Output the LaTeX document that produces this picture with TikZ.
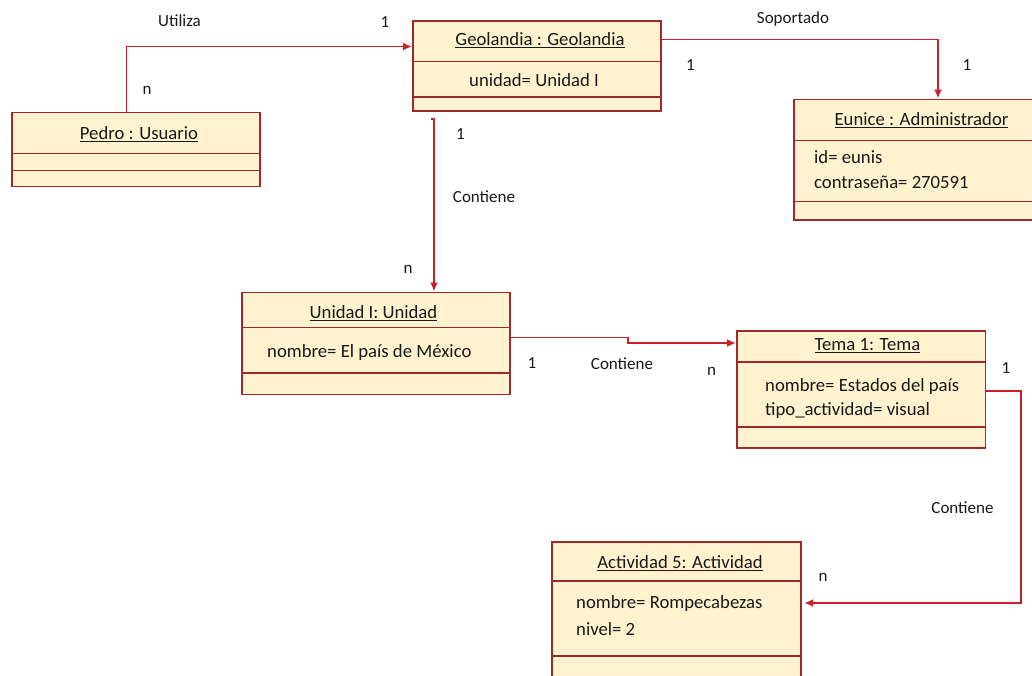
\documentclass[tikz,border=0pt]{standalone}
\usepackage{fontspec}
\setmainfont{Carlito}
\usetikzlibrary{arrows.meta,calc}
\definecolor{boxfill}{RGB}{255,242,206}
\definecolor{boxline}{RGB}{158,40,44}
\definecolor{connred}{RGB}{204,32,40}
\begin{document}
\begin{tikzpicture}[x=1pt,y=-1pt,
  umlbox/.style={draw=boxline, fill=boxfill, line width=1.7pt, rectangle, inner sep=0pt, anchor=north west},
  divider/.style={draw=boxline, line width=1.5pt},
  title/.style={font=\fontsize{18.7}{22}\selectfont, inner sep=0pt, text=black!90},
  attr/.style={font=\fontsize{18.7}{22}\selectfont, inner sep=0pt, anchor=west, text=black!90},
  lbl/.style={font=\fontsize{17}{20}\selectfont, inner sep=0pt, text=black!90},
  conn/.style={draw=connred, line width=1.8pt, -{Latex[length=9pt,width=8pt]}}]
\useasboundingbox (0,0) rectangle (1032,675);
\fill[white] (0,0) rectangle (1032,675);

% Pedro
\node[umlbox, minimum width=248pt, minimum height=74pt] (pedro) at (11,111.5) {};
\draw[divider] (pedro.west |- 0,153.5) -- (pedro.east |- 0,153.5);
\draw[divider] (pedro.west |- 0,170.5) -- (pedro.east |- 0,170.5);
\node[title] (pedroT) at (139,134) {\underline{Pedro : Usuario}};

% Geolandia
\node[umlbox, minimum width=248pt, minimum height=90pt] (geo) at (412,20) {};
\draw[divider] (geo.west |- 0,61.5) -- (geo.east |- 0,61.5);
\draw[divider] (geo.west |- 0,97) -- (geo.east |- 0,97);
\node[title] (geoT) at (540,40.5) {\underline{Geolandia : Geolandia}};
\node[attr] (geoA) at (469,80.5) {unidad= Unidad I};

% Eunice
\node[umlbox, minimum width=260pt, minimum height=120.5pt] (eunice) at (793,98.5) {};
\draw[divider] (eunice.west |- 0,140.5) -- (eunice.east |- 0,140.5);
\draw[divider] (eunice.west |- 0,201.5) -- (eunice.east |- 0,201.5);
\node[title] (euniceT) at (921.5,120.5) {\underline{Eunice : Administrador}};
\node[attr] (euniceA1) at (814,157.5) {id= eunis};
\node[attr] (euniceA2) at (814,182.5) {contraseña= 270591};

% Unidad
\node[umlbox, minimum width=268pt, minimum height=102pt] (unidad) at (241,291.5) {};
\draw[divider] (unidad.west |- 0,327.5) -- (unidad.east |- 0,327.5);
\draw[divider] (unidad.west |- 0,373) -- (unidad.east |- 0,373);
\node[title] (unidadT) at (373.5,313.3) {\underline{Unidad I: Unidad}};
\node[attr] (unidadA) at (267,353) {nombre= El país de México};

% Tema
\node[umlbox, minimum width=248.5pt, minimum height=117pt] (tema) at (736,330) {};
\draw[divider] (tema.west |- 0,362) -- (tema.east |- 0,362);
\draw[divider] (tema.west |- 0,427) -- (tema.east |- 0,427);
\node[title] (temaT) at (867.5,346) {\underline{Tema 1: Tema}};
\node[attr] (temaA1) at (765,386.5) {nombre= Estados del país};
\node[attr] (temaA2) at (765,410.5) {tipo\_actividad= visual};

% Actividad
\node[umlbox, minimum width=249pt, minimum height=140pt] (actividad) at (551,541) {};
\draw[divider] (actividad.west |- 0,581) -- (actividad.east |- 0,581);
\draw[divider] (actividad.west |- 0,656) -- (actividad.east |- 0,656);
\node[title] (actividadT) at (680,563) {\underline{Actividad 5: Actividad}};
\node[attr] (actividadA1) at (576,604) {nombre= Rompecabezas};
\node[attr] (actividadA2) at (576,629) {nivel= 2};

% Connectors
\draw[conn] (pedro.north -| 126.5,0) |- (geo.west |- 0,46.5);
\draw[conn] (geo.east |- 0,39.5) -| (eunice.north -| 938,0);
\coordinate (c1) at (431,119);
\draw[conn] (c1) -- ++(3,0) -- (unidad.north -| 434,0);
\coordinate (k1) at (628,337.5);
\coordinate (k2) at (628,343);
\draw[conn] (unidad.east |- 0,337.5) -- (k1) -- (k2) -- (tema.west |- 0,343);
\coordinate (k3) at (1021,391);
\draw[conn, shorten >=2.5pt] (tema.east |- 0,391) -- (k3) |- (actividad.east |- 0,603);

% Labels
\node[lbl] (l1) at (179.5,20.5) {Utiliza};
\node[lbl] (l2) at (385,22.5) {1};
\node[lbl] (l3) at (147,90) {n};
\node[lbl] (l4) at (793,18.5) {Soportado};
\node[lbl] (l5) at (690.5,65) {1};
\node[lbl] (l6) at (967,65) {1};
\node[lbl] (l7) at (460.5,134) {1};
\node[lbl] (l8) at (484,196.5) {Contiene};
\node[lbl] (l9) at (408,269) {n};
\node[lbl] (l10) at (532,363) {1};
\node[lbl] (l11) at (622,364) {Contiene};
\node[lbl] (l12) at (711.5,371.5) {n};
\node[lbl] (l13) at (1006,368) {1};
\node[lbl] (l14) at (962.5,508) {Contiene};
\node[lbl] (l15) at (823,577) {n};
\end{tikzpicture}
\end{document}
